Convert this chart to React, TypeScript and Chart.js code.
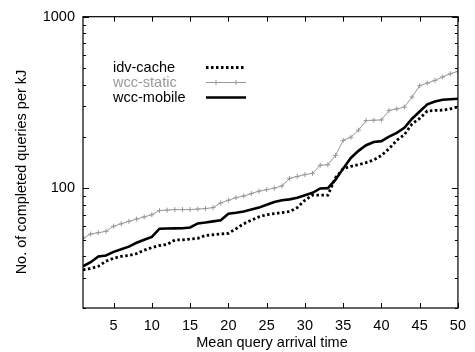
import React, { useEffect, useRef } from "react";
import { Chart, registerables } from "chart.js";

Chart.register(...registerables);

const xValues = Array.from({ length: 50 }, (_, i) => i + 1);

const idvCache = [
  33.4, 34, 35, 37.5, 39, 40, 40.5, 41.5, 43.5, 45,
  46.3, 47, 49.8, 50, 50.5, 51, 53, 53.5, 54, 54.5,
  58, 62, 65, 68, 70, 71, 72, 73, 77, 85,
  91, 91, 91, 115, 130, 134, 137, 141, 146, 155,
  170, 190, 205, 237, 255, 282, 284, 285, 290, 298,
];

const wccStatic = [
  51, 54, 55, 56, 60, 62, 64, 66, 68, 70,
  74, 74.5, 75, 75, 75, 75.5, 76, 77, 82, 85,
  88, 90, 93, 96, 98, 100, 103, 114, 117, 120,
  122, 136, 137, 155, 190, 198, 218, 248, 249, 250,
  284, 290, 297, 340, 396, 410, 425, 445, 465, 480,
];

const wccMobile = [
  35, 37, 40, 40.5, 42.5, 44, 45.6, 48, 50, 52,
  58, 58.2, 58.3, 58.4, 59, 62.3, 63, 64, 65, 71,
  71.8, 73, 75, 77, 80, 83, 85, 86, 88, 91,
  94, 99.6, 100, 112, 130, 150, 165, 178, 186, 188,
  200, 210, 225, 254, 280, 308, 320, 328, 330, 332,
];

const seriesNames = ["idv-cache", "wcc-static", "wcc-mobile"];
const xTickValues = [5, 10, 15, 20, 25, 30, 35, 40, 45, 50];
const yMajorTicks = [100, 1000];
const yMinorTicks = [20, 30, 40, 50, 60, 70, 80, 90, 200, 300, 400, 500, 600, 700, 800, 900];
const xTitle = "Mean query arrival time";
const yTitle = "No. of completed queries per kJ";

const FONT = "'Liberation Sans', Arial, Helvetica, sans-serif";
const GRAY = "#999999";

const decorPlugin = {
  id: "decor",
  afterDatasetsDraw(chart: any) {
    const ctx = chart.ctx;
    const { left, right, top, bottom } = chart.chartArea;
    const xs = chart.scales.x;
    const ys = chart.scales.y;
    ctx.save();
    ctx.strokeStyle = "#000";
    ctx.lineWidth = 1.2;
    ctx.setLineDash([]);
    ctx.strokeRect(left, top, right - left, bottom - top);
    ctx.lineWidth = 1;
    ctx.beginPath();
    xTickValues.forEach((v) => {
      const px = Math.round(xs.getPixelForValue(v)) + 0.5;
      ctx.moveTo(px, bottom);
      ctx.lineTo(px, bottom - 5);
      ctx.moveTo(px, top);
      ctx.lineTo(px, top + 5);
    });
    yMajorTicks.forEach((v) => {
      const py = Math.round(ys.getPixelForValue(v)) + 0.5;
      ctx.moveTo(left, py);
      ctx.lineTo(left + 6, py);
      ctx.moveTo(right, py);
      ctx.lineTo(right - 6, py);
    });
    yMinorTicks.forEach((v) => {
      const py = Math.round(ys.getPixelForValue(v)) + 0.5;
      ctx.moveTo(left, py);
      ctx.lineTo(left + 3, py);
      ctx.moveTo(right, py);
      ctx.lineTo(right - 3, py);
    });
    ctx.stroke();

    ctx.fillStyle = "#000";
    ctx.font = `14.5px ${FONT}`;
    ctx.textAlign = "center";
    ctx.textBaseline = "middle";
    ctx.fillText(xTitle, 272, 343);
    ctx.save();
    ctx.translate(22, 172);
    ctx.rotate(-Math.PI / 2);
    ctx.fillText(yTitle, 0, 0);
    ctx.restore();

    const rowsY = [67.5, 82.5, 97.5];
    ctx.textAlign = "left";
    ctx.font = `14.5px ${FONT}`;
    chart.data.datasets.forEach((ds: any, i: number) => {
      const y = rowsY[i];
      ctx.fillStyle = i === 1 ? GRAY : "#000";
      ctx.fillText(ds.label, 113, y);
      ctx.beginPath();
      ctx.strokeStyle = ds.borderColor;
      ctx.lineWidth = ds.borderWidth;
      ctx.setLineDash(ds.borderDash || []);
      ctx.moveTo(206, y);
      ctx.lineTo(246, y);
      ctx.stroke();
      ctx.setLineDash([]);
      if (i === 1) {
        ctx.lineWidth = 1;
        ctx.beginPath();
        [216, 236].forEach((mx) => {
          ctx.moveTo(mx - 2.5, y);
          ctx.lineTo(mx + 2.5, y);
          ctx.moveTo(mx, y - 2.5);
          ctx.lineTo(mx, y + 2.5);
        });
        ctx.stroke();
      }
    });
    ctx.restore();
  },
};

export default function App() {
  const ref = useRef<HTMLCanvasElement | null>(null);
  useEffect(() => {
    if (!ref.current) return;
    const toPts = (arr: number[]) => xValues.map((x, i) => ({ x, y: arr[i] }));
    const chart = new Chart(ref.current, {
      type: "line",
      data: {
        datasets: [
          {
            label: seriesNames[0],
            data: toPts(idvCache),
            borderColor: "#000",
            borderWidth: 2.8,
            borderDash: [2.5, 2.5],
            pointRadius: 0,
            tension: 0,
          },
          {
            label: seriesNames[1],
            data: toPts(wccStatic),
            borderColor: GRAY,
            borderWidth: 1,
            pointStyle: "cross",
            pointRadius: 2.5,
            pointBorderColor: GRAY,
            pointBorderWidth: 1,
            tension: 0,
          },
          {
            label: seriesNames[2],
            data: toPts(wccMobile),
            borderColor: "#000",
            borderWidth: 2.6,
            pointRadius: 0,
            tension: 0,
          },
        ],
      },
      options: {
        responsive: false,
        animation: false,
        layout: { padding: { left: 0, right: 8, top: 16, bottom: 0 } },
        plugins: { legend: { display: false }, tooltip: { enabled: false } },
        scales: {
          x: {
            type: "linear",
            min: 1,
            max: 50,
            grid: { display: false, drawTicks: false },
            border: { display: false },
            afterBuildTicks: (s: any) => {
              s.ticks = xTickValues.map((v) => ({ value: v }));
            },
            afterFit: (s: any) => {
              s.height = 44;
            },
            ticks: {
              autoSkip: false,
              maxRotation: 0,
              padding: 9,
              color: "#000",
              font: { family: FONT, size: 14.5 },
            },
          },
          y: {
            type: "logarithmic",
            min: 20,
            max: 1000,
            grid: { display: false, drawTicks: false },
            border: { display: false },
            afterBuildTicks: (s: any) => {
              s.ticks = yMajorTicks.map((v) => ({ value: v }));
            },
            afterFit: (s: any) => {
              s.width = 83;
            },
            ticks: {
              autoSkip: false,
              padding: 8,
              color: "#000",
              font: { family: FONT, size: 14.5 },
              callback: (v: any) => String(v),
            },
          },
        },
      },
      plugins: [decorPlugin],
    });
    return () => chart.destroy();
  }, []);
  return (
    <div style={{ position: "absolute", left: 0, top: 0, width: 475, height: 352, background: "#fff" }}>
      <canvas ref={ref} width={475} height={352} style={{ display: "block" }} />
    </div>
  );
}
